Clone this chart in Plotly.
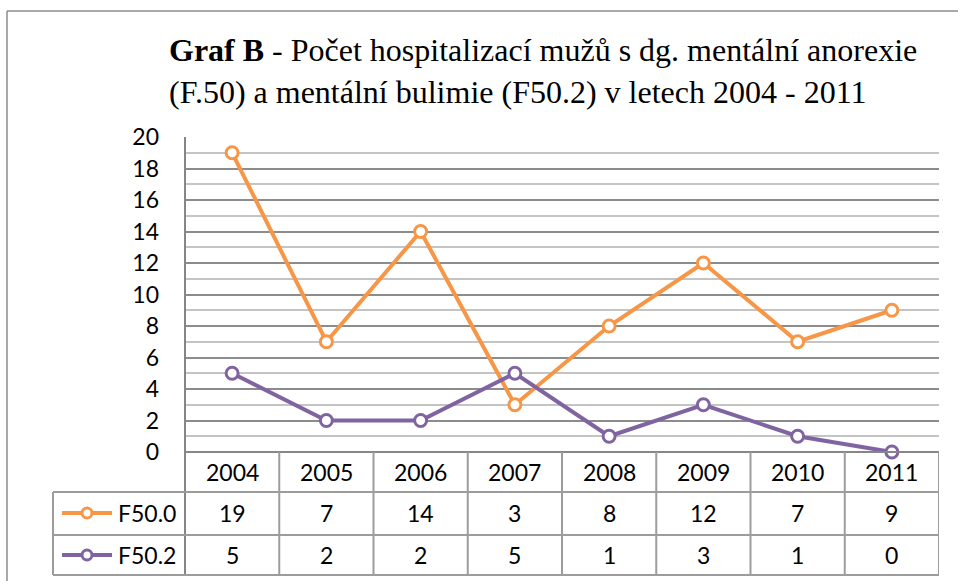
import plotly.graph_objects as go

years = ["2004", "2005", "2006", "2007", "2008", "2009", "2010", "2011"]
f500 = [19, 7, 14, 3, 8, 12, 7, 9]
f502 = [5, 2, 2, 5, 1, 3, 1, 0]
series_names = ["F50.0", "F50.2"]
colors = ["#F79646", "#8064A2"]
y_ticks = list(range(0, 21, 2))

W, H = 958, 581
L, R, T, B = 185, 939, 137, 452  # plot area in pixels


def px(xp):
    return (xp - L) / (R - L)


def py(yp):
    return (B - yp) / (B - T)


fig = go.Figure()
xs = list(range(len(years)))
for name, vals, col in zip(series_names, [f500, f502], colors):
    fig.add_trace(go.Scatter(
        x=xs, y=vals, name=name, mode="lines+markers",
        line=dict(color=col, width=4),
        marker=dict(symbol="circle", size=12, color="white",
                    line=dict(color=col, width=3)),
        showlegend=False, cliponaxis=False,
    ))

tbl_c = "#9C9C9C"
shapes = []
# outer frame (top & left)
shapes.append(dict(type="line", xref="paper", yref="paper", x0=px(7), x1=px(958), y0=py(11), y1=py(11),
                   line=dict(color="#8C8C8C", width=1.5)))
shapes.append(dict(type="line", xref="paper", yref="paper", x0=px(7), x1=px(7), y0=py(11), y1=py(581),
                   line=dict(color="#8C8C8C", width=1.5)))
# plot-area left line extending through the table
shapes.append(dict(type="line", xref="paper", yref="paper", x0=0, x1=0, y0=1, y1=py(575),
                   line=dict(color="#868686", width=2)))
# horizontal table lines
for yp in [492, 535, 575]:
    shapes.append(dict(type="line", xref="paper", yref="paper", x0=px(53), x1=1, y0=py(yp), y1=py(yp),
                       line=dict(color=tbl_c, width=2)))
shapes.append(dict(type="line", xref="paper", yref="paper", x0=0, x1=1, y0=0, y1=0,
                   line=dict(color="#868686", width=2)))
# left table edge
shapes.append(dict(type="line", xref="paper", yref="paper", x0=px(53), x1=px(53), y0=py(492), y1=py(575),
                   line=dict(color=tbl_c, width=2)))
# column separators
for i in range(1, len(years) + 1):
    shapes.append(dict(type="line", xref="x", yref="paper", x0=i - 0.5, x1=i - 0.5, y0=0, y1=py(575),
                       line=dict(color=tbl_c, width=2)))
# legend keys
for k, (yp, col) in enumerate(zip([513, 555], colors)):
    shapes.append(dict(type="line", xref="paper", yref="paper", x0=px(62), x1=px(112), y0=py(yp), y1=py(yp),
                       line=dict(color=col, width=4)))
    shapes.append(dict(type="circle", xref="paper", yref="paper", x0=px(82), x1=px(92),
                       y0=py(yp + 5), y1=py(yp - 5), fillcolor="white",
                       line=dict(color=col, width=3)))

ann = []
tfont = dict(family="Lato, Open Sans, sans-serif", size=23, color="black")
ann.append(dict(xref="paper", yref="paper", x=px(167), y=py(30), xanchor="left", yanchor="top",
                align="left", showarrow=False,
                text="<b>Graf B</b> - Počet hospitalizací mužů s dg. mentální anorexie<br>"
                     "(F.50) a mentální bulimie (F50.2) v letech 2004 - 2011",
                font=dict(family="Liberation Serif, Times New Roman, serif", size=32, color="black")))
for i, yr in enumerate(years):
    ann.append(dict(xref="x", yref="paper", x=i, y=py(472), text=yr, showarrow=False,
                    xanchor="center", yanchor="middle", font=tfont))
for yp, vals in zip([513, 555], [f500, f502]):
    for i, v in enumerate(vals):
        ann.append(dict(xref="x", yref="paper", x=i, y=py(yp), text=str(v), showarrow=False,
                        xanchor="center", yanchor="middle", font=tfont))
for yp, name in zip([513, 555], series_names):
    ann.append(dict(xref="paper", yref="paper", x=px(116), y=py(yp), text=name, showarrow=False,
                    xanchor="left", yanchor="middle", font=tfont))

fig.update_layout(
    width=W, height=H,
    margin=dict(l=L, r=W - R, t=T, b=H - B, pad=0),
    paper_bgcolor="white", plot_bgcolor="white",
    shapes=shapes, annotations=ann,
    xaxis=dict(range=[-0.5, len(years) - 0.5], showticklabels=False, showgrid=False,
               zeroline=False, showline=False, ticks=""),
    yaxis=dict(range=[0, 20], tickvals=y_ticks, showgrid=True, gridcolor="#8C8C8C", gridwidth=2,
               zeroline=False, showline=False, ticks="", ticklabelstandoff=25,
               tickfont=tfont,
               minor=dict(dtick=1, showgrid=True, gridcolor="#C4C4C4", gridwidth=2)),
)

fig.write_html("out.html", config={"displayModeBar": False},
               post_script="document.body.style.margin='0';")
